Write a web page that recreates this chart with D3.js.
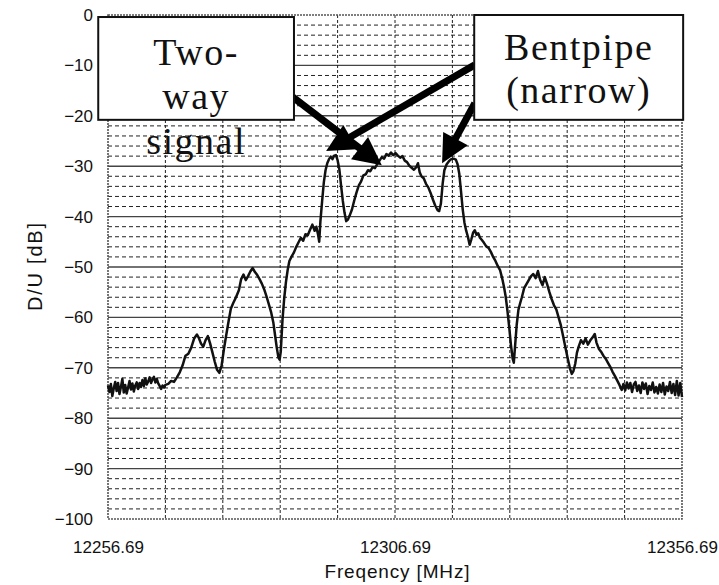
<!DOCTYPE html>
<html>
<head>
<meta charset="utf-8">
<script src="https://cdn.jsdelivr.net/npm/d3@7"></script>
<style>
  html, body { margin: 0; padding: 0; background: #fff; }
  svg { display: block; }
</style>
</head>
<body>
<div id="container"></div>
<script>
const WIDTH = 719;
const HEIGHT = 585;
const MARGIN = {top: 15, right: 37, bottom: 66, left: 108};
const INNER_WIDTH = WIDTH - MARGIN.left - MARGIN.right;
const INNER_HEIGHT = HEIGHT - MARGIN.top - MARGIN.bottom;

// frequency offset from 12256.69 MHz
var FREQ = [0, 0.25, 0.5, 0.75, 1, 1.25, 1.5, 1.75, 2, 2.25, 2.5, 2.75, 3, 3.25, 3.5, 3.75,
    4, 4.25, 4.5, 4.75, 5, 5.25, 5.5, 5.75, 6, 6.25, 6.5, 6.75, 7, 7.25, 7.5, 7.75,
    8, 8.25, 8.5, 8.75, 9, 9.25, 9.5, 9.75, 10, 10.5, 11, 11.5, 12, 12.5, 13, 13.5,
    14, 14.5, 15, 15.5, 15.8, 16.2, 16.6, 17, 17.4, 17.8, 18.2, 18.6, 19, 19.4, 19.8,
    20.2, 20.6, 21, 21.4, 21.8, 22.3, 22.8, 23.2, 23.6, 24, 24.4, 24.8, 25.2, 25.6,
    26, 26.4, 26.8, 27.2, 27.6, 28, 28.4, 28.8, 29.1, 29.4, 29.7, 29.9, 30.1, 30.4,
    30.7, 31, 31.3, 31.6, 32, 32.4, 32.8, 33.2, 33.6, 34, 34.4, 34.8, 35.2, 35.6, 36,
    36.3, 36.6, 36.8, 37, 37.3, 37.6, 37.9, 38.2, 38.5, 38.8, 39.1, 39.4, 39.7, 40,
    40.3, 40.6, 40.9, 41.2, 41.5, 41.8, 42.1, 42.5, 42.9, 43.3, 43.7, 44.1, 44.5,
    44.9, 45.3, 45.7, 46.1, 46.5, 46.9, 47.3, 47.7, 48.1, 48.5, 48.9, 49.3, 49.7,
    50.1, 50.5, 50.9, 51.3, 51.7, 52.1, 52.5, 52.9, 53.3, 53.7, 54, 54.3, 54.6, 55,
    55.4, 55.8, 56.2, 56.6, 57, 57.4, 57.7, 58, 58.3, 58.6, 59, 59.4, 59.8, 60.2,
    60.6, 60.9, 61.2, 61.5, 61.8, 62.1, 62.4, 62.7, 63, 63.3, 63.6, 63.9, 64.2, 64.5,
    64.8, 65.1, 65.5, 65.9, 66.3, 66.7, 67.1, 67.5, 67.9, 68.3, 68.7, 69, 69.3, 69.6,
    69.9, 70.2, 70.5, 70.7, 70.9, 71.2, 71.5, 71.8, 72.1, 72.5, 72.9, 73.3, 73.7,
    74.1, 74.5, 74.9, 75.3, 75.7, 76.1, 76.5, 76.9, 77.3, 77.7, 78.1, 78.5, 78.9,
    79.3, 79.7, 80.1, 80.5, 80.8, 81.1, 81.4, 81.7, 82, 82.4, 82.8, 83.2, 83.6, 84,
    84.4, 84.8, 85.1, 85.5, 85.9, 86.3, 86.7, 87.1, 87.5, 87.9, 88.3, 88.7, 89.1,
    89.5, 89.8, 90.1, 90.4, 90.7, 91, 91.3, 91.6, 91.9, 92.2, 92.5, 92.8, 93.1, 93.4,
    93.7, 94, 94.3, 94.6, 94.9, 95.2, 95.5, 95.8, 96.1, 96.4, 96.7, 97, 97.3, 97.6,
    97.9, 98.2, 98.5, 98.8, 99.1, 99.4, 99.7, 100];

var DU = [-73.5, -74.8, -73.2, -75.6, -74.1, -72.8, -74.6, -73.0, -75.2, -73.8, -72.2, -74.9,
    -73.4, -75.1, -73.9, -72.6, -74.3, -73.1, -74.7, -73.5, -72.9, -74.2, -73.0, -73.8,
    -72.4, -73.6, -72.1, -73.3, -72.7, -71.9, -73.0, -72.3, -71.8, -72.9, -72.2, -73.1,
    -73.6, -74.2, -73.5, -73.9, -73.4, -73.2, -72.6, -72.8, -71.9, -70.9, -69.5, -67.6,
    -67.2, -66.0, -64.2, -63.4, -64.0, -65.2, -65.8, -64.5, -63.7, -65.2, -67.0, -68.8,
    -70.4, -71.0, -69.5, -66.3, -63.5, -60.8, -58.3, -57.2, -56.0, -54.6, -52.4, -51.5,
    -52.6, -51.8, -50.9, -50.2, -51.0, -51.6, -52.4, -53.3, -54.4, -55.8, -57.3, -58.9,
    -61.0, -63.5, -66.0, -68.0, -68.4, -66.8, -60.5, -56.2, -53.0, -50.6, -48.8, -47.9,
    -47.1, -46.0, -45.1, -44.2, -44.8, -43.5, -43.7, -42.6, -41.6, -42.8, -42.0, -43.6,
    -45.0, -41.0, -37.0, -33.2, -30.8, -29.4, -28.6, -28.1, -28.6, -27.9, -27.8, -28.8,
    -30.6, -33.8, -36.8, -39.2, -40.9, -40.6, -39.8, -38.6, -36.8, -35.2, -33.8, -33.0,
    -31.8, -31.6, -30.8, -31.0, -30.2, -30.4, -29.6, -28.9, -28.2, -28.5, -27.6, -27.9,
    -27.3, -27.8, -27.4, -27.9, -28.3, -28.0, -28.9, -29.2, -29.9, -30.3, -30.7, -30.2,
    -29.4, -31.2, -32.0, -32.4, -33.5, -34.2, -35.3, -36.6, -37.8, -38.7, -38.9, -37.4,
    -33.5, -30.8, -29.6, -29.0, -28.6, -28.5, -28.7, -29.6, -31.5, -35.0, -38.6, -41.2,
    -42.8, -44.0, -45.6, -44.5, -43.2, -42.7, -43.6, -43.3, -44.2, -44.6, -45.2, -45.9,
    -46.2, -47.0, -48.0, -48.8, -49.8, -50.6, -52.4, -54.0, -56.0, -58.8, -62.0, -65.5,
    -68.2, -69.0, -66.0, -61.5, -58.5, -57.2, -56.0, -54.2, -53.4, -52.6, -51.8, -51.4,
    -52.2, -50.8, -52.6, -53.6, -52.0, -53.4, -55.0, -56.4, -57.6, -58.4, -60.0, -61.6,
    -63.8, -66.0, -68.2, -70.2, -71.2, -70.6, -69.2, -67.0, -65.8, -64.5, -65.2, -64.2,
    -65.4, -64.6, -64.0, -63.3, -65.0, -66.2, -66.8, -67.6, -68.2, -69.0, -69.8, -70.8,
    -71.6, -72.5, -73.4, -74.4, -73.2, -74.5, -72.9, -74.1, -73.0, -74.8, -73.3, -72.8,
    -74.6, -73.5, -75.0, -72.9, -74.2, -73.1, -75.2, -73.6, -74.4, -72.9, -74.9, -73.8,
    -75.1, -73.3, -74.8, -73.0, -75.3, -73.7, -74.6, -72.8, -75.0, -73.2, -75.4, -72.6,
    -75.5, -73.0, -75.8];

var Y_TICKS = [0, -10, -20, -30, -40, -50, -60, -70, -80, -90, -100];
var Y_LABELS = ["0", "\u221210", "\u221220", "\u221230", "\u221240", "\u221250",
    "\u221260", "\u221270", "\u221280", "\u221290", "\u2212100"];
var X_TICKS = [0, 50, 100];
var X_LABELS = ["12256.69", "12306.69", "12356.69"];

// annotation boxes and arrows, in data units (MHz offset, dB)
var BOXES = [
    {x0: -1.7, x1: 32.4, y0: -0.4, y1: -20.8, lines: ["Two-", "way", "signal"], base: [-9.9, -18.7, -27.6]},
    {x0: 63.8, x1: 100.2, y0: 0, y1: -20.8, lines: ["Bentpipe", "(narrow)"], base: [-8.9, -17.5]}
];
var ARROWS = [
    {from: [32.2, -16.3], to: [47.7, -29.8]},
    {from: [63.9, -9.9], to: [38.0, -27.0]},
    {from: [63.9, -17.5], to: [58.2, -29.4]}
];

var x = d3.scaleLinear().domain([0, 100]).range([0, INNER_WIDTH]);
var y = d3.scaleLinear().domain([-100, 0]).range([INNER_HEIGHT, 0]);

var svg = d3.select("#container").append("svg")
    .attr("width", WIDTH)
    .attr("height", HEIGHT)
    .style("background", "#fff");

var g = svg.append("g").attr("transform", "translate(" + MARGIN.left + "," + MARGIN.top + ")");

// horizontal grid: solid every 10 dB, dashed every 2 dB
g.append("g").selectAll("line")
    .data(d3.range(-98, 0, 2))
    .join("line")
    .attr("x1", 0).attr("x2", INNER_WIDTH)
    .attr("y1", d => y(d)).attr("y2", d => y(d))
    .attr("stroke", d => d % 10 === 0 ? "#444" : "#222")
    .attr("stroke-width", d => d % 10 === 0 ? 1.4 : 1)
    .attr("stroke-dasharray", d => d % 10 === 0 ? null : "4,3");

// vertical grid
g.append("g").selectAll("line")
    .data(d3.range(10, 100, 10))
    .join("line")
    .attr("x1", d => x(d)).attr("x2", d => x(d))
    .attr("y1", 0).attr("y2", INNER_HEIGHT)
    .attr("stroke", "#222")
    .attr("stroke-width", 1)
    .attr("stroke-dasharray", "3,2");

// frame
g.append("rect")
    .attr("width", INNER_WIDTH).attr("height", INNER_HEIGHT)
    .attr("fill", "none")
    .attr("stroke", "#555")
    .attr("stroke-width", 1.6)
    .attr("stroke-dasharray", "2,1");

// spectrum trace
var line = d3.line()
    .x((d, i) => x(FREQ[i]))
    .y(d => y(d));

g.append("path")
    .datum(DU)
    .attr("d", line)
    .attr("fill", "none")
    .attr("stroke", "#111")
    .attr("stroke-width", 2.5)
    .attr("stroke-linejoin", "round");

// axes (labels only)
var yAxis = d3.axisLeft(y).tickValues(Y_TICKS).tickSize(0).tickPadding(15)
    .tickFormat((d, i) => Y_LABELS[i]);
var xAxis = d3.axisBottom(x).tickValues(X_TICKS).tickSize(0).tickPadding(22)
    .tickFormat((d, i) => X_LABELS[i]);

g.append("g").call(yAxis)
    .call(a => a.select(".domain").remove())
    .selectAll("text")
    .attr("font-family", "'Liberation Sans', Arial, sans-serif")
    .attr("font-size", 17)
    .attr("fill", "#111");

g.append("g").attr("transform", "translate(0," + INNER_HEIGHT + ")").call(xAxis)
    .call(a => a.select(".domain").remove())
    .selectAll("text")
    .attr("font-family", "'Liberation Sans', Arial, sans-serif")
    .attr("font-size", 17)
    .attr("fill", "#111");

svg.append("text")
    .attr("x", 397).attr("y", 578)
    .attr("text-anchor", "middle")
    .attr("font-family", "'Liberation Sans', Arial, sans-serif")
    .attr("font-size", 19)
    .attr("textLength", 145)
    .attr("fill", "#111")
    .text("Freqency [MHz]");

svg.append("text")
    .attr("transform", "translate(42,267) rotate(-90)")
    .attr("text-anchor", "middle")
    .attr("font-family", "'Liberation Sans', Arial, sans-serif")
    .attr("font-size", 20)
    .attr("textLength", 88)
    .attr("fill", "#111")
    .text("D/U [dB]");

// arrows
var HEAD_LEN = 28, HEAD_HALF = 14;
ARROWS.forEach(function (a) {
    var x1 = x(a.from[0]), y1 = y(a.from[1]);
    var x2 = x(a.to[0]), y2 = y(a.to[1]);
    var ang = Math.atan2(y2 - y1, x2 - x1);
    var bx = x2 - HEAD_LEN * Math.cos(ang), by = y2 - HEAD_LEN * Math.sin(ang);
    g.append("line")
        .attr("x1", x1).attr("y1", y1)
        .attr("x2", bx + 2 * Math.cos(ang)).attr("y2", by + 2 * Math.sin(ang))
        .attr("stroke", "#000")
        .attr("stroke-width", 7);
    var nx = -Math.sin(ang), ny = Math.cos(ang);
    g.append("polygon")
        .attr("points", [[x2, y2], [bx + nx * HEAD_HALF, by + ny * HEAD_HALF],
            [bx - nx * HEAD_HALF, by - ny * HEAD_HALF]].map(p => p.join(",")).join(" "))
        .attr("fill", "#000");
});

// annotation boxes
BOXES.forEach(function (b) {
    g.append("rect")
        .attr("x", x(b.x0)).attr("y", y(b.y0))
        .attr("width", x(b.x1) - x(b.x0))
        .attr("height", y(b.y1) - y(b.y0))
        .attr("fill", "#fff")
        .attr("stroke", "#111")
        .attr("stroke-width", 2);
    b.lines.forEach(function (t, i) {
        g.append("text")
            .attr("x", (x(b.x0) + x(b.x1)) / 2)
            .attr("y", y(b.base[i]))
            .attr("text-anchor", "middle")
            .attr("font-family", "'Liberation Serif', 'Times New Roman', serif")
            .attr("font-size", 38)
            .attr("letter-spacing", 1.5)
            .attr("fill", "#111")
            .text(t);
    });
});
</script>
</body>
</html>
